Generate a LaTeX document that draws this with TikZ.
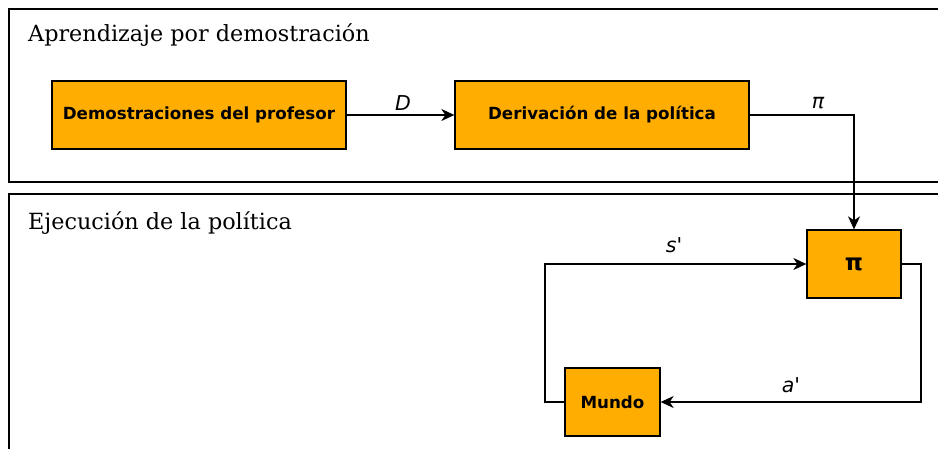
\documentclass[tikz,border=0pt]{standalone}
\usepackage{fontspec}
\setmainfont{DejaVu Serif}
\newfontfamily\sansb{DejaVu Sans}
\usetikzlibrary{arrows.meta}
\definecolor{boxorange}{HTML}{FFAD00}
\tikzset{
  frame/.style={draw=black, line width=1.8pt},
  boxnode/.style={draw=black, line width=1.3pt, fill=boxorange, inner sep=0pt, font=\sansb\bfseries\fontsize{16.7}{20}\selectfont},
  conn/.style={draw=black, line width=1.4pt, -{Stealth[length=13pt,width=12pt,inset=4pt]}},
  lbl/.style={font=\sansb\itshape\fontsize{20.5}{24}\selectfont, inner sep=0pt, anchor=base},
  title/.style={font=\fontsize{22.3}{26}\selectfont, inner sep=0pt, anchor=base west}
}
\begin{document}
\begin{tikzpicture}[x=1pt,y=-1pt]
\clip (0,0) rectangle (938,448);
\fill[white] (0,0) rectangle (938,448);
\draw[frame] (9,9) rectangle (990,182);
\draw[frame] (9,194) rectangle (990,500);
\node[title] (t1) at (28,41) {Aprendizaje por demostración};
\node[title] (t2) at (28,229) {Ejecución de la política};

\node[boxnode, minimum width=294pt, minimum height=68pt] (demo) at (199,115) {Demostraciones del profesor};
\node[boxnode, minimum width=294pt, minimum height=68pt] (deriv) at (602,115) {Derivación de la política};
\node[boxnode, minimum width=94pt, minimum height=68pt, font=\sansb\bfseries\fontsize{23}{27}\selectfont] (pi) at (854,264) {π};
\node[boxnode, minimum width=95pt, minimum height=68pt] (mundo) at (612.5,402) {Mundo};

\coordinate (c1) at (854,115);
\coordinate (c2) at (545,402);
\coordinate (c3) at (545,264);
\coordinate (c4) at (921,264);
\coordinate (c5) at (921,402);

\draw[conn] (demo.east) -- (deriv.west);
\draw[conn] (deriv.east) -- (c1) -- (pi.north);
\draw[conn] (mundo.west) -- (c2) -- (c3) -- (pi.west);
\draw[conn] (pi.east) -- (c4) -- (c5) -- (mundo.east);

\node[lbl] (lD) at (403,110.5) {D};
\node[lbl] (lpi) at (818,108) {π};
\node[lbl] (ls) at (674,252) {s'};
\node[lbl] (la) at (791,392.5) {a'};
\end{tikzpicture}
\end{document}
